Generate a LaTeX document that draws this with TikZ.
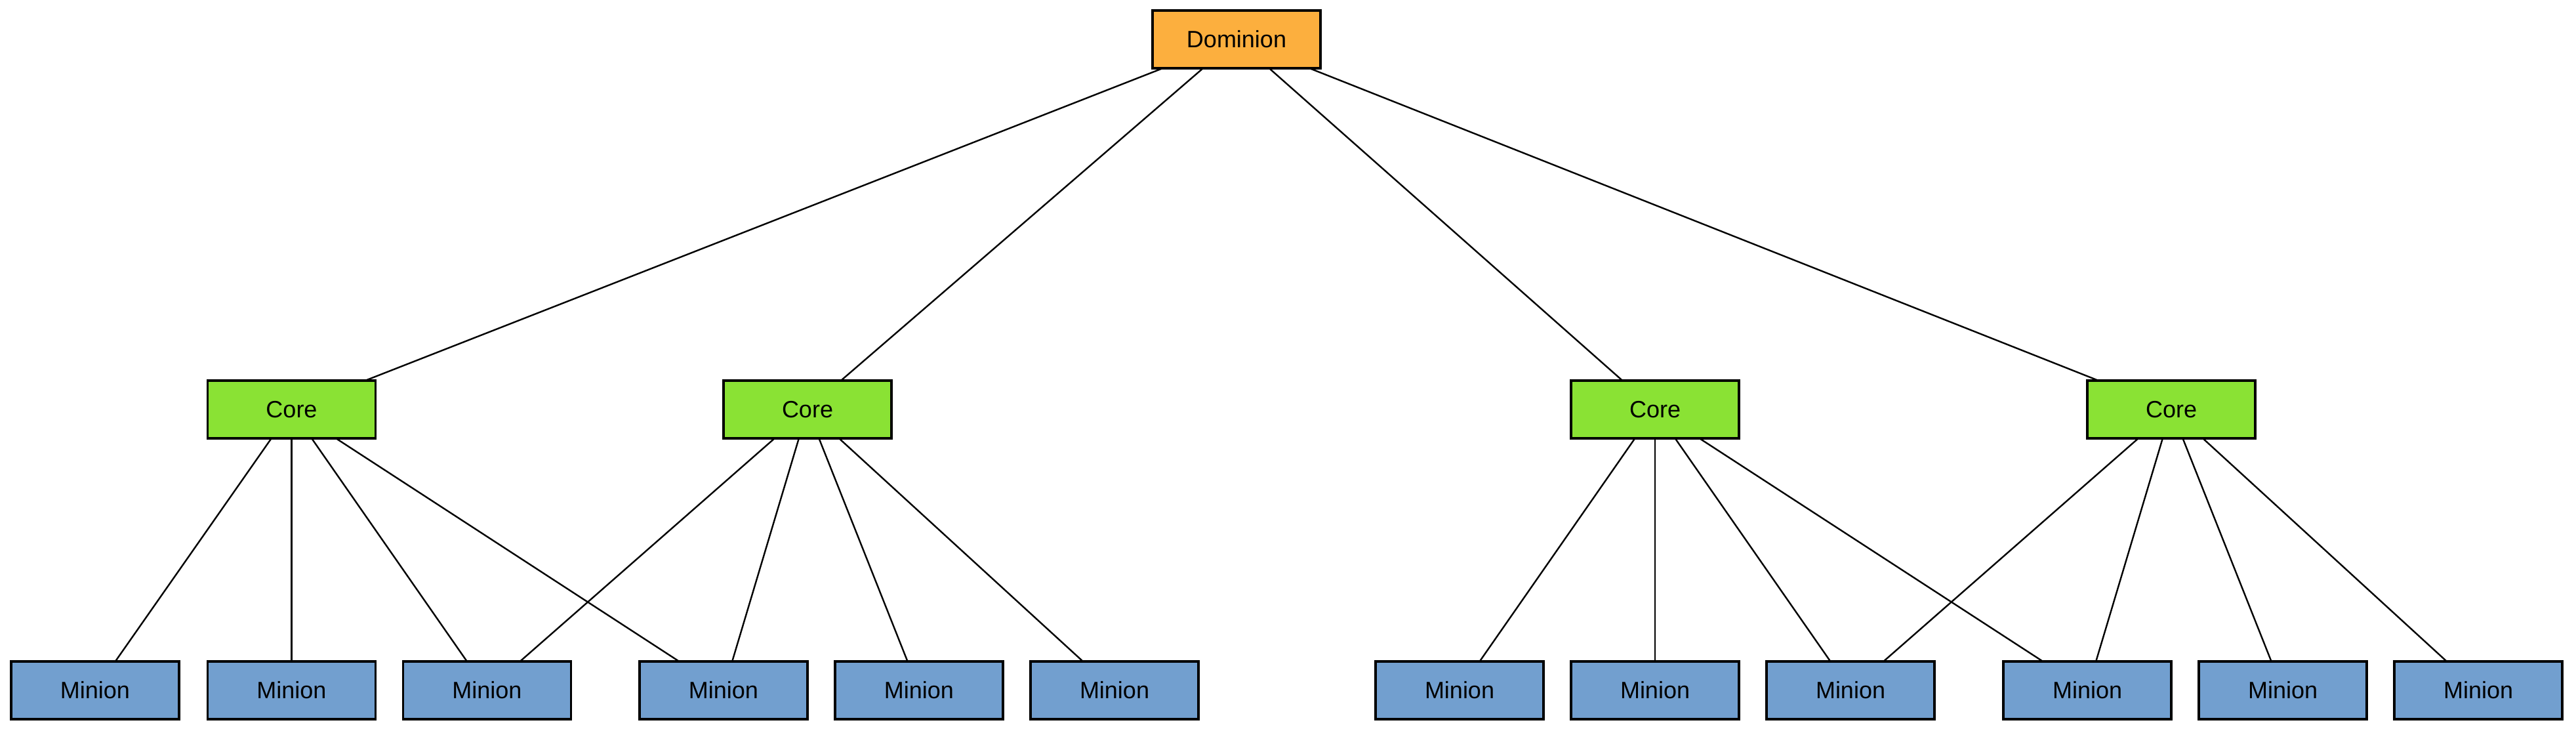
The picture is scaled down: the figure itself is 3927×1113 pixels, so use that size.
\documentclass[tikz,border=0pt]{standalone}
\usepackage{fontspec}
\setmainfont{Liberation Sans}
\definecolor{domfill}{HTML}{FCAF3E}
\definecolor{corefill}{HTML}{8AE234}
\definecolor{minfill}{HTML}{729FCF}
\begin{document}
\begin{tikzpicture}[x=0.25pt,y=-0.25pt,
  box/.style={draw=black,line width=0.85pt,minimum width=64pt,minimum height=22pt,inner sep=0pt,outer sep=0pt,font=\fontsize{9}{10}\selectfont},
  dom/.style={box,fill=domfill},
  corebox/.style={box,fill=corefill},
  minbox/.style={box,fill=minfill},
  edge/.style={draw=black,line width=0.6pt}]
\useasboundingbox (0,0) rectangle (3927,1113);
\node[dom] (d) at (1885,60) {Dominion};
\node[corebox] (c1) at (444.5,624) {Core};
\node[corebox] (c2) at (1231,624) {Core};
\node[corebox] (c3) at (2523,624) {Core};
\node[corebox] (c4) at (3310,624) {Core};
\foreach \i/\x in {1/145,2/444.5,3/742.5,4/1103,5/1401,6/1699,7/2225,8/2523,9/2821,10/3182,11/3480,12/3778}
  \node[minbox] (m\i) at (\x,1052) {Minion};
\foreach \c in {c1,c2,c3,c4} \draw[edge] (d) -- (\c);
\foreach \m in {1,2,3,4} \draw[edge] (c1) -- (m\m);
\foreach \m in {3,4,5,6} \draw[edge] (c2) -- (m\m);
\foreach \m in {7,8,9,10} \draw[edge] (c3) -- (m\m);
\foreach \m in {9,10,11,12} \draw[edge] (c4) -- (m\m);
\end{tikzpicture}
\end{document}
